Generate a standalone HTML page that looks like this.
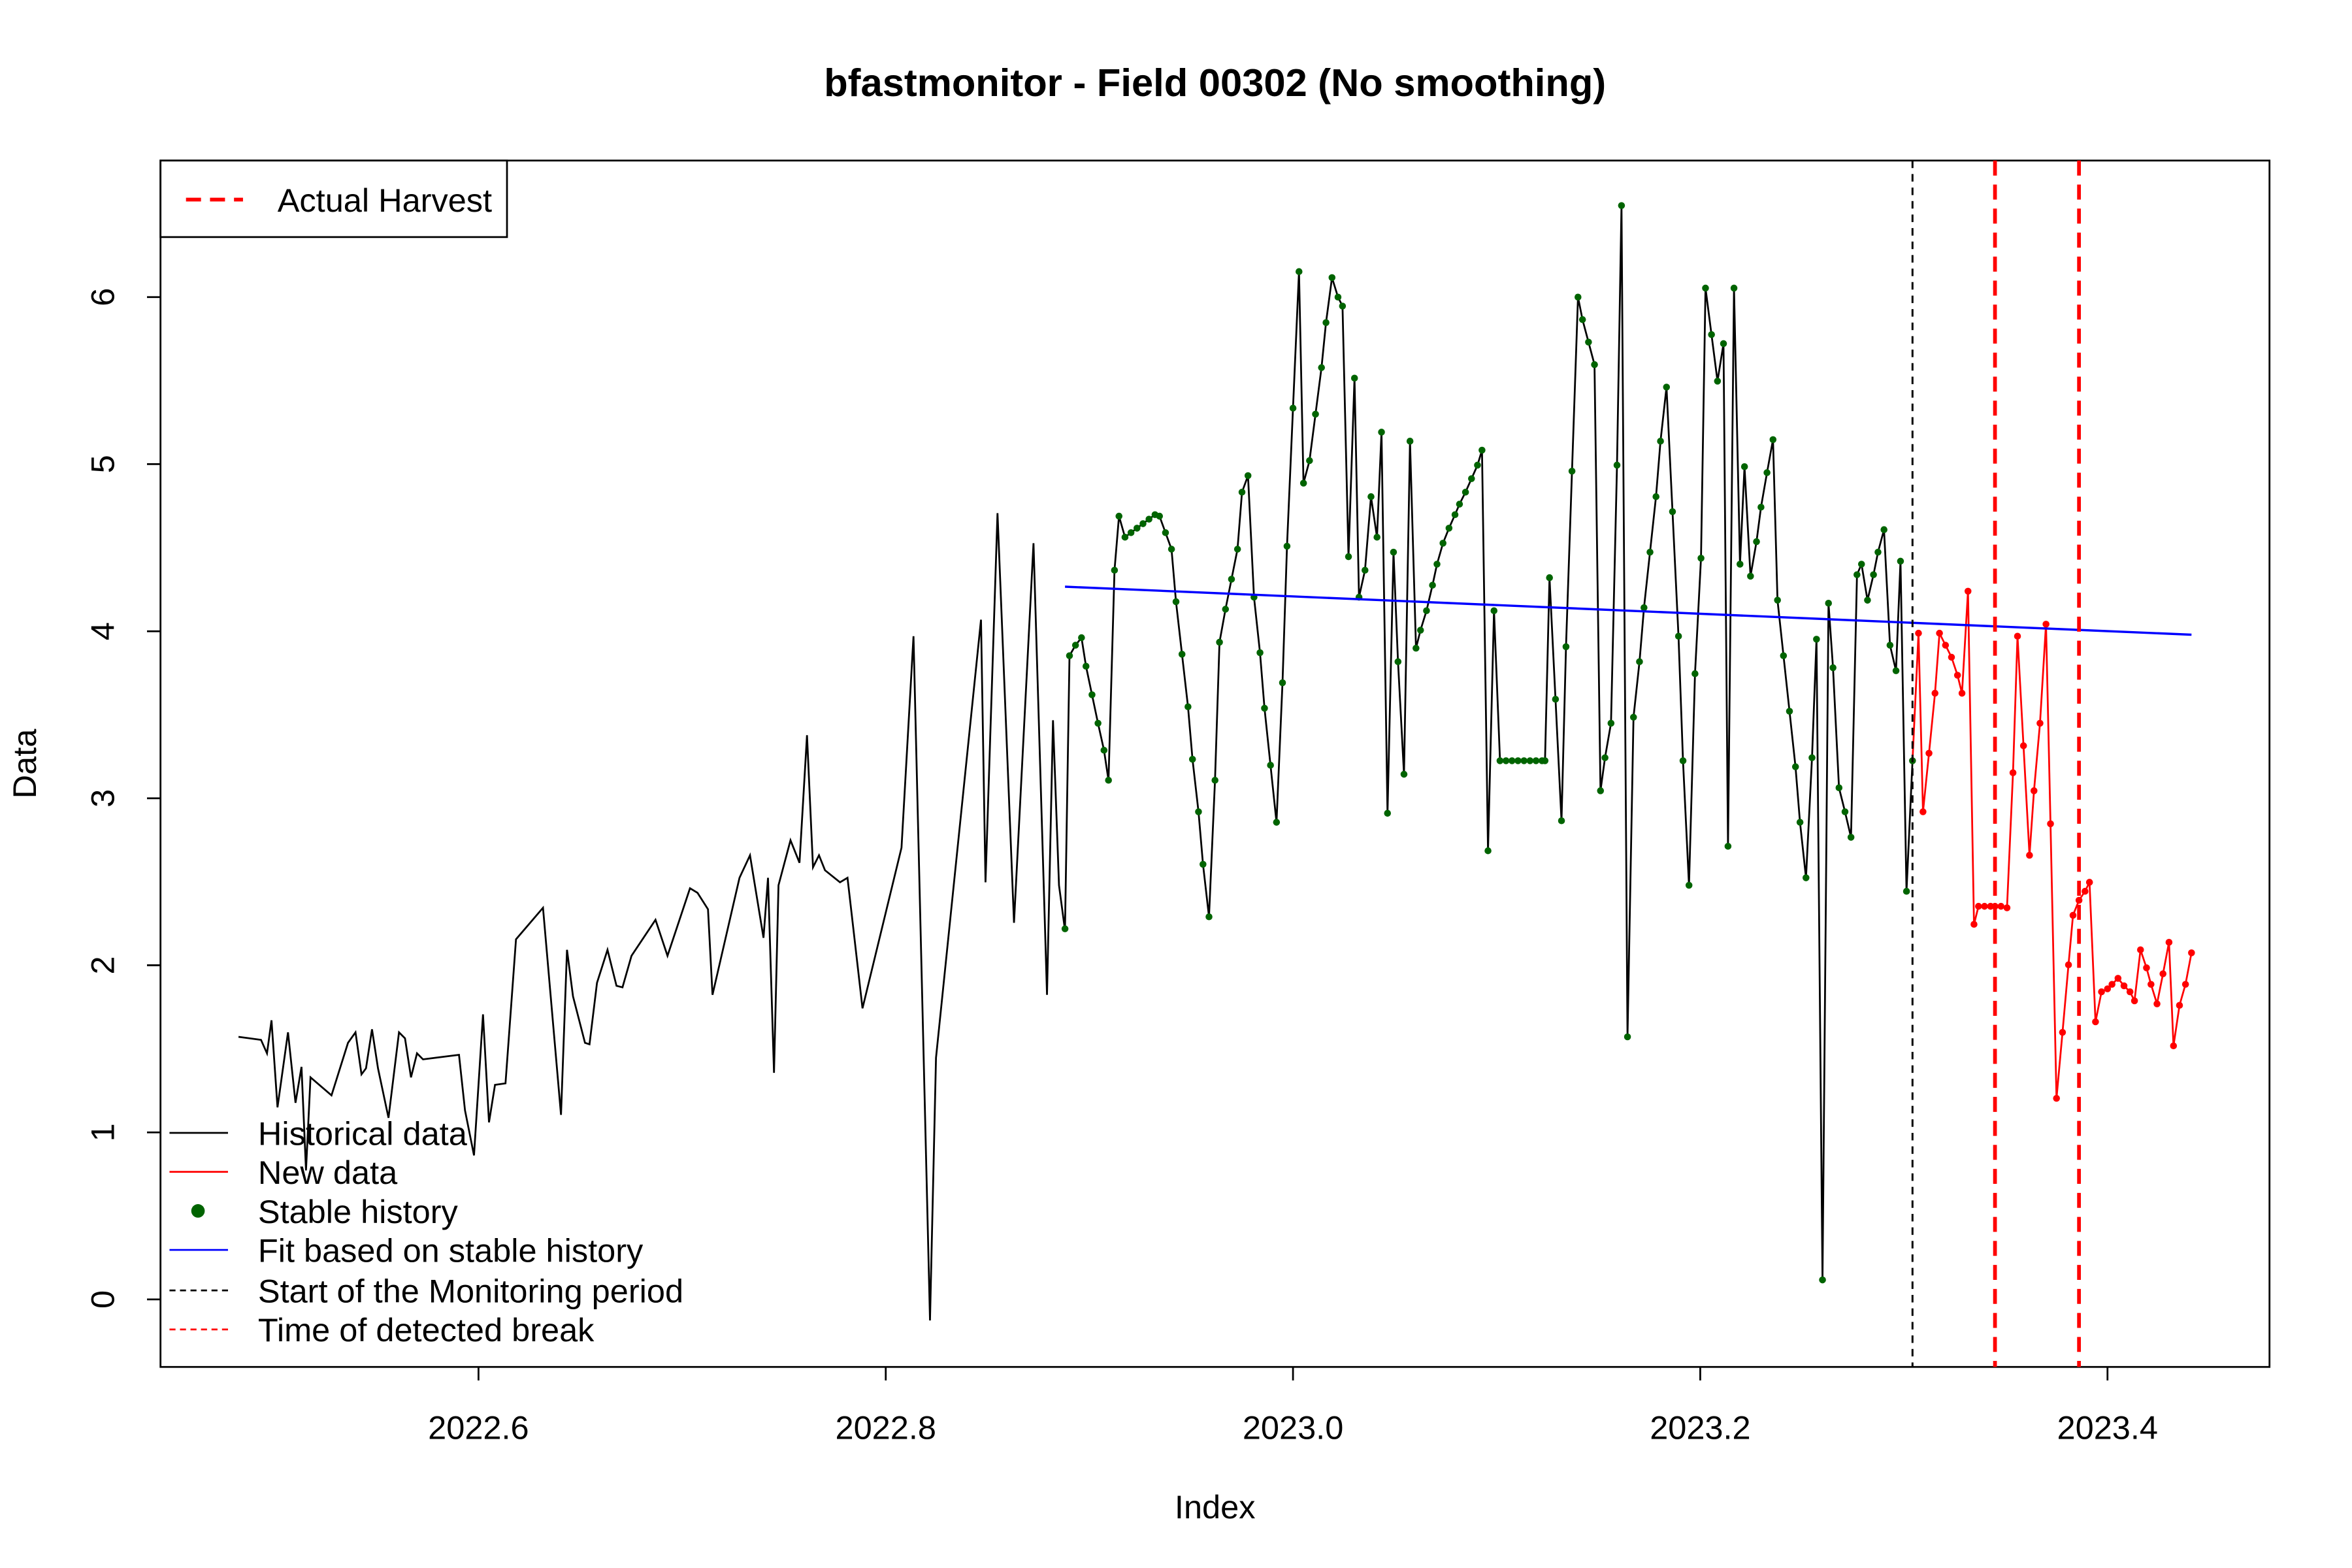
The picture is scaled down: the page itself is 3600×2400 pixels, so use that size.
<!DOCTYPE html>
<html><head><style>html,body{margin:0;padding:0;background:#fff}svg{display:block}</style></head>
<body>
<svg width="3600" height="2400" viewBox="0 0 1568 1045" preserveAspectRatio="none" xmlns="http://www.w3.org/2000/svg" font-family="Liberation Sans, Arial, sans-serif">
<rect width="1568" height="1045" fill="#fff"/>
<text x="810" y="64" font-size="26" font-weight="bold" text-anchor="middle">bfastmonitor - Field 00302 (No smoothing)</text>
<rect x="107" y="107" width="1406" height="804" fill="none" stroke="#000" stroke-width="1.2"/>
<g stroke="#000" stroke-width="1.2">
<line x1="319" y1="911" x2="319" y2="920"/><line x1="590.5" y1="911" x2="590.5" y2="920"/><line x1="862" y1="911" x2="862" y2="920"/><line x1="1133.5" y1="911" x2="1133.5" y2="920"/><line x1="1405" y1="911" x2="1405" y2="920"/>
<line x1="98" y1="866" x2="107" y2="866"/><line x1="98" y1="754.7" x2="107" y2="754.7"/><line x1="98" y1="643.3" x2="107" y2="643.3"/><line x1="98" y1="532" x2="107" y2="532"/><line x1="98" y1="420.7" x2="107" y2="420.7"/><line x1="98" y1="309.3" x2="107" y2="309.3"/><line x1="98" y1="198" x2="107" y2="198"/>
</g>
<g font-size="22" text-anchor="middle">
<text x="319" y="959">2022.6</text><text x="590.5" y="959">2022.8</text><text x="862" y="959">2023.0</text><text x="1133.5" y="959">2023.2</text><text x="1405" y="959">2023.4</text>
<text x="810" y="1012">Index</text>
</g>
<g font-size="22" text-anchor="middle">
<text transform="translate(76,866) rotate(-90)">0</text><text transform="translate(76,754.7) rotate(-90)">1</text><text transform="translate(76,643.3) rotate(-90)">2</text><text transform="translate(76,532) rotate(-90)">3</text><text transform="translate(76,420.7) rotate(-90)">4</text><text transform="translate(76,309.3) rotate(-90)">5</text><text transform="translate(76,198) rotate(-90)">6</text>
<text transform="translate(24,509) rotate(-90)">Data</text>
</g>
<polyline fill="none" stroke="#000" stroke-width="1.2" points="159,691 174,693 178,702 181,680 185,738 192,688 197,735 201,711 204,780 207,718 221,730 232,695 237,688 241,716 244,712 248,686 252,712 259,745 266,688 270,692 274,718 278,702 282,706 290,705 306,703 310,740 316,770 322,676 326,748 330,723 337,722 344,626 362,605 374,743 378,633 382,664 390,695 393,696 398,655 405,633 411,657 415,658 421,637 437,613 445,637 460,592 465,595 472,606 475,663 493,585 500,570 509,625 512,585 516,715 519,590 527,560 533,575 538,490 542,578 546,570 550,580 560,588 565,585 575,672 601,565 609,424 620,880 624,705 654,413 657,588 665,342 676,615 689,362 698,663 702,480 706,590 710,620"/>
<polyline fill="none" stroke="#000" stroke-width="1.2" points="710,619 713,437 717,430 721,425 724,444 728,463 732,482 736,500 739,520 743,380 746,344 750,358 754,355 758,352 762,349 766,346 770,343 773,344 777,355 781,366 784,401 788,436 792,471 795,506 799,541 802,576 806,611 810,520 813,428 817,406 821,386 825,366 828,328 832,317 836,398 840,435 843,472 847,510 851,548 855,455 858,364 862,272 866,181 869,322 873,307 877,276 881,245 884,215 888,185 892,198 895,204 899,371 903,252 906,398 910,380 914,331 918,358 921,288 925,542 929,368 932,441 936,516 940,294 944,432 947,420 951,407 955,390 958,376 962,362 966,352 970,343 973,336 977,328 981,319 985,310 988,300 992,567 996,407 1000,507 1004,507 1008,507 1012,507 1016,507 1020,507 1024,507 1028,507 1030,507 1033,385 1037,466 1041,547 1044,431 1048,314 1052,198 1055,213 1059,228 1063,243 1067,527 1070,505 1074,482 1078,310 1081,137 1085,691 1089,478 1093,441 1096,405 1100,368 1104,331 1107,294 1111,258 1115,341 1119,424 1122,507 1126,590 1130,449 1134,372 1137,192 1141,223 1145,254 1149,229 1152,564 1156,192 1160,376 1163,311 1167,384 1171,361 1174,338 1178,315 1182,293 1185,400 1189,437 1193,474 1197,511 1200,548 1204,585 1208,505 1211,426 1215,853 1219,402 1222,445 1226,525 1230,541 1234,558 1238,383 1241,376 1245,400 1249,383 1252,368 1256,353 1260,430 1264,447 1267,374 1271,594 1275,507"/>
<g fill="#006400" id="gdots"></g>
<polyline fill="none" stroke="#ff0000" stroke-width="1.2" points="1275,507 1279,422 1282,541 1286,502 1290,462 1293,422 1297,430 1301,438 1305,450 1308,462 1312,394 1316,616 1319,604 1323,604 1327,604 1330,604 1334,604 1338,605 1342,515 1345,424 1349,497 1353,570 1356,527 1360,482 1364,416 1367,549 1371,732 1375,688 1379,643 1382,610 1386,600 1390,594 1393,588 1397,681 1401,661 1405,659 1408,656 1412,652 1416,657 1420,661 1423,667 1427,633 1431,645 1434,656 1438,669 1442,649 1446,628 1449,697 1453,670 1457,656 1461,635"/>
<g fill="#ff0000" id="rdots"></g>
<line x1="710" y1="391" x2="1461" y2="423" stroke="#0000ff" stroke-width="1.5"/>
<line x1="1275" y1="107" x2="1275" y2="911" stroke="#000" stroke-width="1.3" stroke-dasharray="5,4"/>
<line x1="1330" y1="107" x2="1330" y2="911" stroke="#ff0000" stroke-width="2.5" stroke-dasharray="10,6"/>
<line x1="1386" y1="107" x2="1386" y2="911" stroke="#ff0000" stroke-width="2.5" stroke-dasharray="10,6"/>
<rect x="107" y="107" width="231" height="51" fill="#fff" stroke="#000" stroke-width="1.2"/>
<line x1="124" y1="133" x2="162" y2="133" stroke="#ff0000" stroke-width="2.5" stroke-dasharray="10,6"/>
<text x="185" y="141" font-size="22">Actual Harvest</text>
<g font-size="22">
<line x1="113" y1="755" x2="152" y2="755" stroke="#000" stroke-width="1.2"/><text x="172" y="763">Historical data</text>
<line x1="113" y1="781" x2="152" y2="781" stroke="#ff0000" stroke-width="1.2"/><text x="172" y="789">New data</text>
<circle cx="132" cy="807" r="4.5" fill="#006400"/><text x="172" y="815">Stable history</text>
<line x1="113" y1="833" x2="152" y2="833" stroke="#0000ff" stroke-width="1.2"/><text x="172" y="841">Fit based on stable history</text>
<line x1="113" y1="860" x2="152" y2="860" stroke="#000" stroke-width="1.2" stroke-dasharray="4,3"/><text x="172" y="868">Start of the Monitoring period</text>
<line x1="113" y1="886" x2="152" y2="886" stroke="#ff0000" stroke-width="1.2" stroke-dasharray="4,3"/><text x="172" y="894">Time of detected break</text>
</g>
</svg>
<script>
(function(){
var ns="http://www.w3.org/2000/svg";
function dots(id,pl,color,skipFirst){
 var g=document.getElementById(id);
 var pts=pl.getAttribute("points").trim().split(/\s+/);
 for(var i=skipFirst?1:0;i<pts.length;i++){var p=pts[i].split(",");var c=document.createElementNS(ns,"circle");c.setAttribute("cx",p[0]);c.setAttribute("cy",p[1]);c.setAttribute("r","2.3");c.setAttribute("fill",color);g.appendChild(c);}
}
var pls=document.querySelectorAll("polyline");
dots("gdots",pls[1],"#006400",false);
dots("rdots",pls[2],"#ff0000",true);
})();
</script>
</body></html>
